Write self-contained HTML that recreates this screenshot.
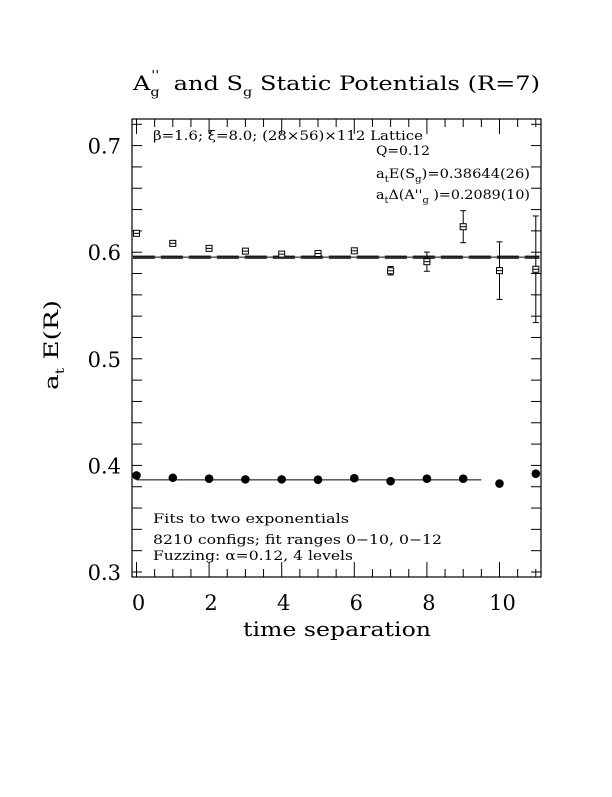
<!DOCTYPE html>
<html><head><meta charset="utf-8"><style>
body{margin:0;background:#fff}
svg text{font-family:"DejaVu Serif","Liberation Serif",serif;fill:#000}
</style></head><body>
<svg id="chart" width="612" height="792" viewBox="0 0 612 792" xmlns="http://www.w3.org/2000/svg">
<text x="133" y="90" font-size="20" textLength="407" lengthAdjust="spacingAndGlyphs">A<tspan font-size="12" dy="6">g</tspan><tspan font-size="12" dx="-7" dy="-17">''</tspan><tspan dy="11" dx="12">and S</tspan><tspan font-size="12" dy="6">g</tspan><tspan dy="-6"> Static Potentials (R=7)</tspan></text>
<rect x="132" y="119" width="409" height="458" fill="none" stroke="#000" stroke-width="1.2"/>
<g id="ticks"></g>
<g id="marks"></g>
<text x="153" y="140" font-size="13" textLength="270" lengthAdjust="spacingAndGlyphs">β=1.6; ξ=8.0; (28×56)×112 Lattice</text>
<text x="376" y="155" font-size="13" textLength="54" lengthAdjust="spacingAndGlyphs">Q=0.12</text>
<text x="376" y="178" font-size="13" textLength="154" lengthAdjust="spacingAndGlyphs">a<tspan font-size="9" dy="4">t</tspan><tspan dy="-4">E(S</tspan><tspan font-size="9" dy="4">g</tspan><tspan dy="-4">)=0.38644(26)</tspan></text>
<text x="376" y="199" font-size="13" textLength="154" lengthAdjust="spacingAndGlyphs">a<tspan font-size="9" dy="4">t</tspan><tspan dy="-4">Δ(A''</tspan><tspan font-size="9" dy="4">g</tspan><tspan dy="-4"> )=0.2089(10)</tspan></text>
<text x="153" y="523" font-size="13" textLength="196" lengthAdjust="spacingAndGlyphs">Fits to two exponentials</text>
<text x="153" y="544" font-size="13" textLength="289" lengthAdjust="spacingAndGlyphs">8210 configs; fit ranges 0−10, 0−12</text>
<text x="153" y="560" font-size="13" textLength="200" lengthAdjust="spacingAndGlyphs">Fuzzing: α=0.12, 4 levels</text>
<text x="243" y="636" font-size="20" textLength="188" lengthAdjust="spacingAndGlyphs">time separation</text>
<text transform="translate(58,390) rotate(-90)" font-size="20" textLength="90" lengthAdjust="spacingAndGlyphs">a<tspan font-size="12" dy="6">t</tspan><tspan dy="-6"> E(R)</tspan></text>
</svg>
<script>
const xTicks=[0,2,4,6,8,10];
const yTicks=[0.3,0.4,0.5,0.6,0.7];
const tS=[0,1,2,3,4,5,6,7,8,9,10,11];
const sgValues=[0.3906,0.3884,0.3875,0.3869,0.3869,0.3866,0.3880,0.3852,0.3875,0.3875,0.3830,0.3922];
const tA=[0,1,2,3,4,5,6,7,8,9,10,11];
const agValues=[0.6177,0.6083,0.6036,0.6010,0.5982,0.5988,0.6013,0.5826,0.5911,0.6239,0.5827,0.5840];
const agErrors=[0.002,0.0015,0.0015,0.0015,0.0015,0.0015,0.0015,0.004,0.009,0.015,0.027,0.05];
const sgFit=0.38644, sgFitRange=[0,9.5];
const agFit=0.59534, agFitErr=0.001, agFitRange=[-0.1,11.1];
const X=v=>136.5+v*36.3;
const Y=v=>572-(v-0.3)*1066;
const NS='http://www.w3.org/2000/svg';
const tk=document.getElementById('ticks'), mk=document.getElementById('marks');
function mk_(tag,a,p){const e=document.createElementNS(NS,tag);for(const k in a)e.setAttribute(k,a[k]);(p||mk).appendChild(e);return e;}
for(let v=0;v<=11;v+=0.5){const maj=Number.isInteger(v/2);const len=maj?15:8;
 let l=mk_('line',{x1:X(v),x2:X(v),y1:577,y2:577-len,stroke:'#000'},tk);
 
 
 l=mk_('line',{x1:X(v),x2:X(v),y1:119,y2:119+len,stroke:'#000'},tk);
 
 }
xTicks.forEach(v=>{const t=mk_('text',{x:X(v)+(v>=10?3:2),y:610,'font-size':21,'text-anchor':'middle'},tk);t.textContent=v;
 
 });
for(let i=0;i<=21;i++){const v=0.3+i*0.02;const y=Y(v);if(y<119)break;
 let l=mk_('line',{x1:132,x2:142,y1:y,y2:y,stroke:'#000'},tk);
 
 
 l=mk_('line',{x1:531,x2:541,y1:y,y2:y,stroke:'#000'},tk);
 
 }
yTicks.forEach(v=>{const t=mk_('text',{x:121,y:Y(v)+8,'font-size':21,'text-anchor':'end'},tk);t.textContent=v.toFixed(1);
 
 });
let f=mk_('line',{x1:X(sgFitRange[0]),x2:X(sgFitRange[1]),y1:Y(sgFit),y2:Y(sgFit),stroke:'#000'});


f=mk_('line',{x1:X(agFitRange[0]),x2:X(agFitRange[1]),y1:Y(agFit),y2:Y(agFit),stroke:'#000'});


[agFit+agFitErr,agFit-agFitErr].forEach(v=>{const d=mk_('line',{x1:X(agFitRange[0]),x2:X(agFitRange[1]),y1:Y(v),y2:Y(v),stroke:'#000','stroke-dasharray':'22,6'});
 
 });
tS.forEach((t,i)=>{const c=mk_('circle',{cx:X(t),cy:Y(sgValues[i]),r:4.3,fill:'#000'});
 
 });
tA.forEach((t,i)=>{const x=X(t),y=Y(agValues[i]),e=agErrors[i]*1066;
 const g=mk_('g',{});
 
 
 mk_('line',{x1:x,x2:x,y1:y-e,y2:y+e,stroke:'#000'},g);
 mk_('line',{x1:x-3,x2:x+3,y1:y-e,y2:y-e,stroke:'#000'},g);
 mk_('line',{x1:x-3,x2:x+3,y1:y+e,y2:y+e,stroke:'#000'},g);
 mk_('rect',{x:x-3,y:y-3,width:6,height:6,fill:'#fff',stroke:'#000'},g);
 mk_('line',{x1:x-3,x2:x+3,y1:y,y2:y,stroke:'#000'},g);});
</script>
</body></html>
